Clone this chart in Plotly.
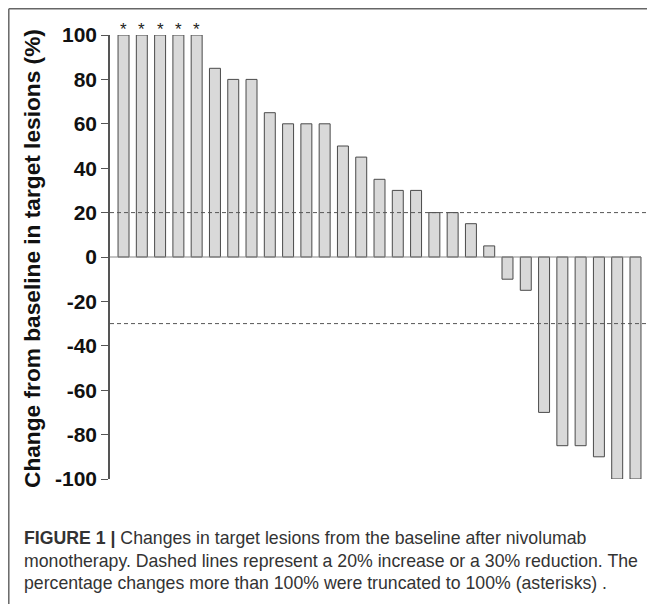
import plotly.graph_objects as go

# ---- data ----
patients = list(range(1, 30))
change_pct = [100, 100, 100, 100, 100, 85, 80, 80, 65, 60, 60, 60, 50, 45, 35,
              30, 30, 20, 20, 15, 5, -10, -15, -70, -85, -85, -90, -100, -100]
truncated = [True] * 5 + [False] * 24
y_ticks = [100, 80, 60, 40, 20, 0, -20, -40, -60, -80, -100]
threshold_increase = 20
threshold_reduction = -30
y_title = "Change from baseline in target lesions (%)"
caption_lines = [
    "<b>FIGURE 1 |</b> Changes in target lesions from the baseline after nivolumab",
    "monotherapy. Dashed lines represent a 20% increase or a 30% reduction. The",
    "percentage changes more than 100% were truncated to 100% (asterisks) .",
]

# page offset from the default body margin
OFF = 8
W, H = 655 - OFF, 604 - OFF
L, R, T, B = 110 - OFF, 647 - OFF, 35 - OFF, 479 - OFF  # plot area in layout pixels


def px(x):  # page pixel -> paper
    return (x - OFF - L) / (R - L)


def py(y):
    return (B - (y - OFF)) / (B - T)


FONT = "Arial, Liberation Sans, sans-serif"
idx = list(range(len(patients)))
bar_w = 0.6

fig = go.Figure()
fig.add_trace(go.Bar(
    x=idx, y=change_pct, width=bar_w,
    marker=dict(color="#d9d9d9", line=dict(color="#4a4a4a", width=1)),
    hoverinfo="y", showlegend=False,
))

annotations = []
for i, (v, t) in enumerate(zip(change_pct, truncated)):
    if t:
        annotations.append(dict(x=i, y=v, xref="x", yref="y", text="*", showarrow=False,
                                yanchor="bottom", yshift=-6,
                                font=dict(family=FONT, size=17, color="#222")))

annotations.append(dict(x=px(32), y=py(259), xref="paper", yref="paper", text=f"<b>{y_title}</b>",
                        textangle=-90, showarrow=False, xanchor="center", yanchor="middle",
                        font=dict(family=FONT, size=22.7, color="#111")))

for line, yc in zip(caption_lines, [538, 561, 583]):
    annotations.append(dict(x=px(22), y=py(yc), xref="paper", yref="paper", text=line,
                            showarrow=False, xanchor="left", yanchor="middle", align="left",
                            font=dict(family=FONT, size=17.7, color="#333")))

shapes = [
    dict(type="line", xref="paper", yref="y", x0=0, x1=1, y0=threshold_increase, y1=threshold_increase,
         line=dict(color="#555", width=1, dash="4px,3px")),
    dict(type="line", xref="paper", yref="y", x0=0, x1=1, y0=threshold_reduction, y1=threshold_reduction,
         line=dict(color="#555", width=1, dash="4px,3px")),
    dict(type="line", xref="paper", yref="y", x0=0, x1=px(641), y0=0, y1=0,
         line=dict(color="#888", width=1.2)),
    # figure frame (top and left)
    dict(type="line", xref="paper", yref="paper", x0=px(8.8), x1=px(660), y0=py(8.8), y1=py(8.8),
         line=dict(color="#666", width=1.5)),
    dict(type="line", xref="paper", yref="paper", x0=px(8.8), x1=px(8.8), y0=py(8.8), y1=py(610),
         line=dict(color="#666", width=1.5)),
]

fig.update_layout(
    width=W, height=H,
    margin=dict(l=L, r=W - R, t=T, b=H - B, pad=0),
    paper_bgcolor="white", plot_bgcolor="white",
    annotations=annotations, shapes=shapes,
    xaxis=dict(range=[-0.74, 28.63], showticklabels=False, showgrid=False, zeroline=False,
               showline=False, ticks=""),
    yaxis=dict(range=[-100, 100], tickvals=y_ticks, ticktext=[str(v) for v in y_ticks],
               showgrid=False, zeroline=False, showline=True, linecolor="#555", linewidth=1.5,
               ticks="outside", ticklen=7, tickcolor="#555", tickwidth=1.2,
               tickfont=dict(family=FONT, size=21, color="#111", weight="bold")),
)

fig.write_html("out.html")
